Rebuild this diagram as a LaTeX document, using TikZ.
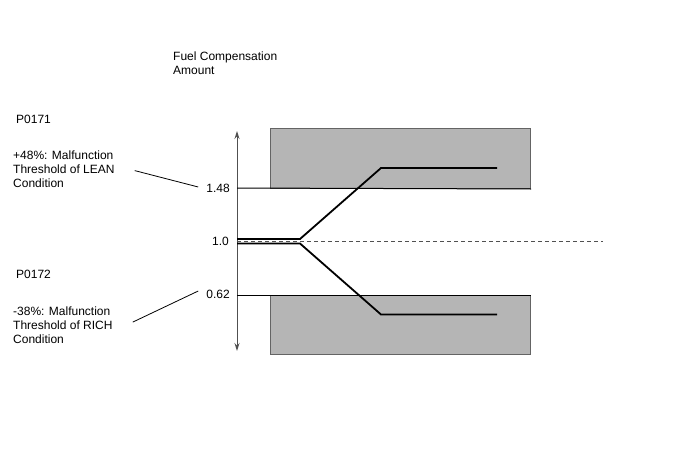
\documentclass[tikz,border=0pt]{standalone}
\usepackage{fontspec}
\setmainfont{Liberation Sans}
\usetikzlibrary{arrows.meta,positioning,calc}
\definecolor{bandfill}{RGB}{181,181,181}
\definecolor{banddraw}{RGB}{100,100,100}
\definecolor{axisgray}{RGB}{80,80,80}
\tikzset{
  etiq/.style={
    anchor=north west, inner sep=0pt, align=left,
    font=\fontsize{12}{14}\selectfont},
  valor/.style={
    anchor=east, inner sep=0pt, font=\fontsize{12}{14}\selectfont},
  banda/.style={
    rectangle, draw=banddraw, fill=bandfill, line width=1pt,
    minimum width=260pt, anchor=north west, inner sep=0pt},
  eje/.style={{Stealth[length=8pt,width=5pt]}-{Stealth[length=8pt,width=5pt]},
    axisgray, line width=0.9pt},
  umbral/.style={line width=1pt},
  traza/.style={line width=1.8pt},
  guia/.style={line width=0.8pt},
  nominal/.style={dash pattern=on 4pt off 3pt, axisgray, line width=0.8pt}
}

\begin{document}
\begin{tikzpicture}[x=1pt,y=-1pt]

\useasboundingbox (0,0) rectangle (688,463);

\node[etiq] (titulo) at (173,52) {Fuel Compensation\\Amount};
\node[etiq] (p171) at (16,115) {P0171};
\node[etiq] (lean) at (13,151) {+48\%: Malfunction\\Threshold of LEAN\\Condition};
\node[etiq] (p172) at (16,270) {P0172};
\node[etiq] (rich) at (13,307) {-38\%: Malfunction\\Threshold of RICH\\Condition};

\node[valor] (v148) at (230,188) {1.48};
\node[valor] (v10)  at (229,241) {1.0};
\node[valor] (v062) at (230,294) {0.62};

\node[banda, minimum height=60pt] (alta) at (270,128) {};
\node[banda, minimum height=59pt] (baja) at (270,295) {};

\coordinate (ejearr) at (237,131);
\coordinate (ejeab)  at (237,351);
\coordinate (t148) at (237,188);
\coordinate (t10)  at (237,241);
\coordinate (t062) at (237,295);
\coordinate (fin)  at (603,241);

\draw[eje] (ejeab) -- (ejearr);
\draw[umbral] (t148) -- (alta.south east);
\draw[umbral] (t062) -- (baja.north east);
\draw[nominal] (t10) -- (fin);

\draw[traza] (237,239) -- (300,239) -- (381,168) -- (497,168);
\draw[traza] (237,243.5) -- (300,243.5) -- (381,314.5) -- (497,314.5);

\draw[guia] ([xshift=20pt,yshift=-1pt]lean.east) -- ([xshift=-8pt,yshift=1pt]v148.west);
\draw[guia] ([xshift=20pt,yshift=3.5pt]rich.east) -- ([xshift=-8pt,yshift=3pt]v062.west);

\end{tikzpicture}
\end{document}
